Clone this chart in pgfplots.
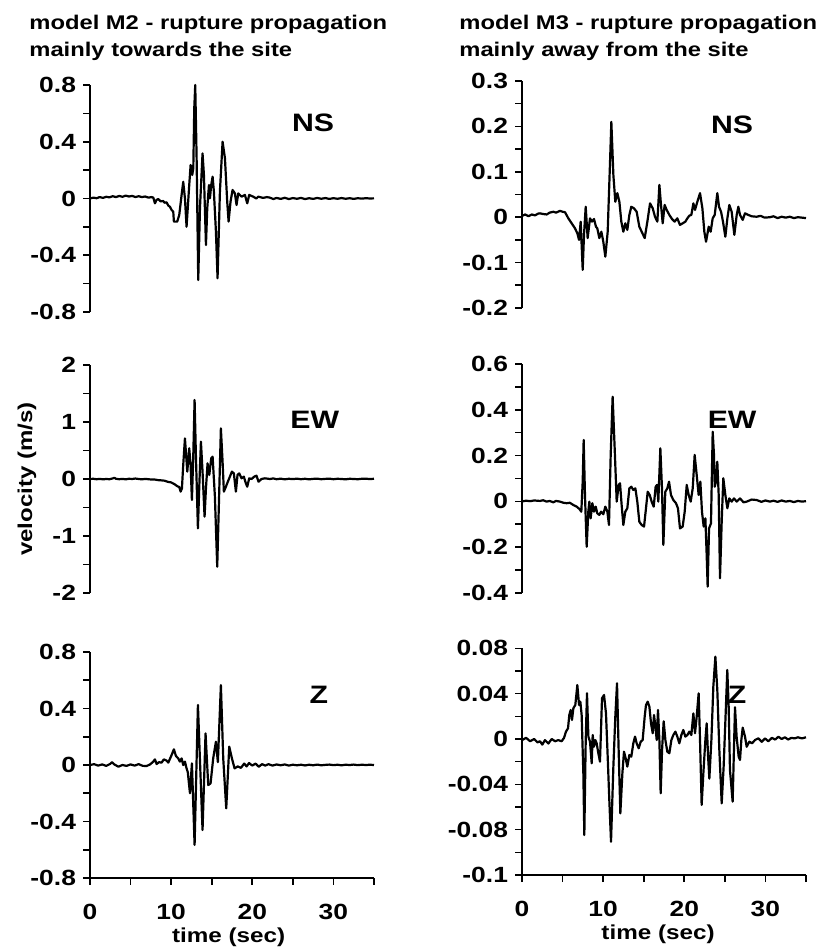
\documentclass[border=0pt]{standalone}
\usepackage{fontspec}
\setmainfont{Liberation Sans}[FakeStretch=1.2, BoldFeatures={FakeStretch=1.2}]
\usepackage{pgfplots}
\pgfplotsset{compat=1.18}

\pgfplotsset{
  panel/.style={
    scale only axis, width=142pt, xmin=0, xmax=35,
    axis y line*=left, axis line style={-, line width=0.8pt},
    tick align=outside, major tick length=3.5pt,
    every tick/.style={black, line width=0.8pt},
    yticklabel style={font=\bfseries\fontsize{11}{12}\selectfont},
    xticklabel style={font=\bfseries\fontsize{11}{12}\selectfont, yshift=-6pt},
    clip=false,
  },
  toppanel/.style={axis x line=none, xtick=\empty},
  botpanel/.style={axis x line*=bottom, xtick={0,5,...,35}, xticklabels={0,,10,,20,,30,},
    xlabel={time (sec)},
    xlabel style={font=\bfseries\fontsize{10.1}{12}\selectfont, inner sep=0pt, anchor=north,
      at={(axis description cs:#1,0)}, yshift=-24.5pt}},
  trace/.style={black, line width=1.1pt, line join=round, no marks},
}
\tikzset{
  lbl/.style={font=\bfseries\fontsize{12.6}{14}\selectfont},
  ttl/.style={anchor=base west, inner sep=0pt, font=\bfseries\fontsize{9.9}{12}\selectfont},
}

\begin{document}
\begin{tikzpicture}
\useasboundingbox (0,0) rectangle (411pt,473.5pt);

\node[ttl] at (14.5pt,458.8pt) {model M2 - rupture propagation};
\node[ttl] at (14.5pt,445.2pt) {mainly towards the site};
\node[ttl] at (229.5pt,458.8pt) {model M3 - rupture propagation};
\node[ttl] at (229.5pt,445.2pt) {mainly away from the site};

% ---- M2, NS
\begin{axis}[panel, toppanel, at={(45pt,317.5pt)}, anchor=south west, height=113.5pt,
  ymin=-0.8, ymax=0.8,
  ytick={-0.8,-0.6,-0.4,-0.2,0,0.2,0.4,0.6,0.8}, yticklabels={-0.8,,-0.4,,0,,0.4,,0.8}]
\addplot[trace] coordinates {
(0,0.000) (0.4,0.006) (0.8,0.002) (1.2,0.010) (1.6,0.004) (2.0,0.012) (2.4,0.008) (2.8,0.016)
(3.2,0.010) (3.6,0.018) (4.0,0.012) (4.4,0.020) (4.8,0.014) (5.2,0.018) (5.6,0.010) (6.0,0.016)
(6.4,0.010) (6.8,0.014) (7.2,0.006) (7.6,0.010) (7.8,0.006) (8.0,-0.034) (8.2,-0.010) (8.41,-0.004)
(8.7,-0.020) (9.03,-0.018) (9.2,-0.030) (9.44,-0.027) (9.65,-0.050) (9.85,-0.058) (10.06,-0.081)
(10.26,-0.093) (10.34,-0.163) (10.75,-0.163) (11.0,-0.116) (11.29,0.025) (11.49,0.118) (11.70,0.001)
(11.90,-0.199) (12.23,0.095) (12.40,0.236) (12.60,0.166) (12.73,0.212) (12.85,0.636) (12.97,0.800)
(13.14,0.284) (13.34,-0.574) (13.55,-0.069) (13.87,0.318) (14.04,0.166) (14.29,-0.328) (14.45,-0.069)
(14.66,0.095) (14.78,0.001) (14.94,0.095) (15.11,0.154) (15.27,0.048) (15.52,-0.234) (15.72,-0.562)
(16.01,0.048) (16.34,0.400) (16.63,0.284) (16.91,-0.022) (17.08,-0.163) (17.32,-0.022) (17.57,0.060)
(17.86,0.036) (18.06,-0.046) (18.27,0.036) (18.68,0.013) (19.09,0.025) (19.38,-0.034) (19.62,0.025)
(20.11,0.013) (20.5,0.000) (20.73,0.013) (21.34,0.004) (21.8,0.010) (22.17,0.006) (22.6,-0.004)
(23.0,0.004) (23.5,-0.003) (24.0,0.005) (24.5,-0.004) (25.0,0.003) (25.5,-0.002) (26.0,0.004)
(26.5,-0.004) (27.0,0.002) (27.5,-0.003) (28.0,0.004) (28.5,-0.002) (29.0,0.003) (29.5,-0.003)
(30.0,0.002) (30.5,-0.002) (31.0,0.003) (31.5,-0.002) (32.0,0.002) (32.5,-0.003) (33.0,0.002)
(33.5,-0.001) (34.0,0.002) (34.5,0.000) (35.0,0.001)};
\node[lbl] at (axis cs:27.5,0.536) {NS};
\end{axis}

% ---- M2, EW
\begin{axis}[panel, toppanel, at={(45pt,177pt)}, anchor=south west, height=114pt,
  ymin=-2, ymax=2,
  ytick={-2,-1.5,-1,-0.5,0,0.5,1,1.5,2}, yticklabels={-2,,-1,,0,,1,,2},
  ylabel={velocity (m/s)},
  ylabel style={font=\bfseries\fontsize{10}{12}\selectfont, at={(axis description cs:-0.222,0.5)}, anchor=center}]
\addplot[trace] coordinates {
(0,0.000) (0.4,0.004) (0.8,-0.004) (1.2,0.002) (1.6,-0.006) (2.0,0.000) (2.4,-0.004) (2.8,0.010)
(3.0,0.020) (3.2,0.004) (3.6,-0.004) (4.0,0.002) (4.4,-0.006) (4.8,0.004) (5.2,0.000) (5.6,0.008)
(6.0,0.000) (6.4,-0.006) (6.8,0.002) (7.2,-0.004) (7.6,-0.010) (8.0,-0.010) (8.4,-0.020) (8.8,-0.024)
(9.2,-0.030) (9.6,-0.050) (10.0,-0.060) (10.4,-0.090) (10.8,-0.130) (11.0,-0.140) (11.17,-0.222)
(11.33,-0.164) (11.49,0.246) (11.70,0.713) (11.99,0.129) (12.23,0.538) (12.40,0.246) (12.56,-0.368)
(12.73,0.421) (12.89,1.386) (13.05,0.421) (13.30,-0.866) (13.46,-0.164) (13.67,0.655) (13.87,0.129)
(14.12,-0.661) (14.29,-0.164) (14.49,0.275) (14.70,0.070) (14.94,0.363) (15.11,0.392) (15.39,-0.300)
(15.68,-1.538) (15.93,-0.200) (16.13,0.889) (16.34,0.300) (16.50,-0.222) (16.75,-0.135) (16.99,-0.047)
(17.24,0.041) (17.49,0.129) (17.73,0.099) (17.98,-0.222) (18.18,0.070) (18.39,0.099) (18.68,0.012)
(18.96,0.041) (19.21,-0.076) (19.38,-0.135) (19.62,0.012) (19.91,0.000) (20.24,0.041) (20.52,0.058)
(20.77,-0.047) (21.14,0.000) (21.55,0.012) (22.17,0.000) (22.6,0.010) (23.0,-0.004) (23.5,0.006)
(24.0,-0.006) (24.5,0.004) (25.0,-0.002) (25.5,0.006) (26.0,-0.004) (26.5,0.004) (27.0,-0.006)
(27.5,0.002) (28.0,0.006) (28.5,-0.004) (29.0,0.002) (29.5,0.006) (30.0,-0.004) (30.5,0.004)
(31.0,0.000) (31.5,-0.006) (32.0,0.004) (32.5,0.000) (33.0,-0.004) (33.5,0.004) (34.0,0.006)
(34.5,-0.002) (35.0,0.004)};
\node[lbl] at (axis cs:27.7,1.03) {EW};
\end{axis}

% ---- M2, Z
\begin{axis}[panel, botpanel=0.488, at={(45pt,34.5pt)}, anchor=south west, height=113pt,
  ymin=-0.8, ymax=0.8,
  ytick={-0.8,-0.6,-0.4,-0.2,0,0.2,0.4,0.6,0.8}, yticklabels={-0.8,,-0.4,,0,,0.4,,0.8}]
\addplot[trace] coordinates {
(0,0.000) (0.5,0.006) (1.0,-0.004) (1.5,0.004) (2.0,-0.006) (2.5,0.008) (2.7,0.020) (3.0,0.004)
(3.5,-0.012) (4.0,0.000) (4.5,-0.006) (5.0,0.004) (5.5,-0.004) (6.0,0.006) (6.5,-0.006) (6.98,-0.007)
(7.4,0.004) (7.8,0.024) (8.0,0.040) (8.21,0.007) (8.5,0.020) (8.83,0.017) (9.1,0.040) (9.44,0.031)
(9.65,0.017) (10.06,0.071) (10.34,0.111) (10.59,0.064) (10.88,0.047) (11.08,0.024) (11.29,0.047)
(11.49,0.000) (11.70,0.024) (11.90,-0.024) (12.05,-0.050) (12.32,-0.200) (12.56,0.012) (12.89,-0.566)
(13.30,0.425) (13.87,-0.460) (14.24,0.224) (14.57,-0.142) (14.86,-0.130) (15.19,0.050) (15.52,0.165)
(15.76,0.020) (16.13,0.566) (16.42,0.047) (16.79,-0.307) (17.16,0.130) (17.49,0.047) (17.82,-0.024)
(18.2,-0.010) (18.6,-0.020) (19.0,0.010) (19.3,-0.010) (19.6,0.014) (20.0,-0.004) (20.4,0.010)
(20.8,-0.012) (21.2,0.006) (21.6,-0.004) (22.0,0.006) (22.5,-0.004) (23.0,0.004) (23.5,-0.002)
(24.0,0.004) (24.5,-0.004) (25.0,0.002) (25.5,-0.002) (26.0,0.002) (26.5,-0.003) (27.0,0.002)
(27.5,-0.002) (28.0,0.003) (28.5,-0.002) (29.0,0.001) (29.5,0.003) (30.0,-0.001) (30.5,0.002)
(31.0,-0.002) (31.5,0.002) (32.0,0.000) (32.5,0.003) (33.0,-0.001) (33.5,0.002) (34.0,0.000)
(34.5,0.002) (35.0,0.000)};
\node[lbl] at (axis cs:28.2,0.50) {Z};
\end{axis}

% ---- M3, NS
\begin{axis}[panel, toppanel, at={(261pt,319.5pt)}, anchor=south west, height=113.5pt,
  ymin=-0.2, ymax=0.3,
  ytick={-0.2,-0.15,-0.1,-0.05,0,0.05,0.1,0.15,0.2,0.25,0.3},
  yticklabels={-0.2,,-0.1,,0,,0.1,,0.2,,0.3}]
\addplot[trace] coordinates {
(0,0.003) (0.4,0.006) (0.8,0.002) (1.2,0.006) (1.6,0.004) (2.0,0.008) (2.22,0.0085) (2.6,0.007)
(3.04,0.006) (3.4,0.010) (3.86,0.012) (4.2,0.010) (4.68,0.014) (5.0,0.012) (5.30,0.011) (5.71,-0.0025)
(6.12,-0.0135) (6.53,-0.0245) (6.82,-0.0355) (7.03,-0.050) (7.23,-0.010) (7.48,-0.116) (7.64,-0.039)
(7.85,0.023) (8.09,-0.046) (8.38,-0.0025) (8.63,-0.0098) (8.87,-0.004) (9.12,-0.021) (9.28,-0.0245)
(9.53,-0.046) (9.78,-0.032) (10.02,-0.054) (10.27,-0.087) (10.56,-0.032) (10.85,0.122) (11.01,0.210)
(11.26,0.093) (11.50,0.034) (11.75,0.053) (12.00,0.034) (12.24,-0.0098) (12.49,-0.032) (12.73,-0.0135)
(12.98,-0.028) (13.23,0.005) (13.47,0.023) (13.80,0.0195) (14.13,0.012) (14.46,-0.021) (14.75,-0.032)
(15.12,-0.046) (15.45,-0.0098) (15.78,0.0305) (16.11,0.0195) (16.39,0.001) (16.68,-0.0098) (16.93,0.071)
(17.13,0.027) (17.34,-0.0135) (17.58,0.027) (17.83,0.016) (18.16,0.005) (18.49,-0.004) (18.81,-0.0098)
(19.14,-0.0025) (19.47,-0.017) (19.80,-0.0135) (20.13,-0.0098) (20.38,-0.0025) (20.62,0.0034)
(20.87,0.005) (21.12,0.0305) (21.32,0.016) (21.61,0.034) (21.94,0.053) (22.23,0.0195) (22.47,-0.032)
(22.68,-0.054) (23.01,-0.021) (23.25,-0.032) (23.50,-0.0025) (23.75,0.005) (24.07,0.053) (24.28,0.023)
(24.53,0.012) (24.77,-0.0098) (25.06,-0.043) (25.31,-0.0025) (25.55,0.027) (25.84,0.012) (26.17,-0.039)
(26.46,0.005) (26.66,0.023) (26.87,0.005) (27.20,-0.006) (27.48,0.0085) (27.89,0.005) (28.3,0.002)
(28.92,0.001) (29.4,0.003) (29.9,-0.001) (30.56,0.000) (31.0,0.002) (31.5,-0.002) (32.0,0.001)
(32.5,-0.001) (33.0,0.001) (33.5,-0.002) (34.0,0.000) (34.5,-0.001) (35.0,-0.002)};
\node[lbl] at (axis cs:25.9,0.203) {NS};
\end{axis}

% ---- M3, EW
\begin{axis}[panel, toppanel, at={(261pt,177pt)}, anchor=south west, height=114.5pt,
  ymin=-0.4, ymax=0.6,
  ytick={-0.4,-0.3,-0.2,-0.1,0,0.1,0.2,0.3,0.4,0.5,0.6},
  yticklabels={-0.4,,-0.2,,0,,0.2,,0.4,,0.6}]
\addplot[trace] coordinates {
(0,0.000) (0.5,0.003) (1.0,0.001) (1.5,0.004) (2.22,0.002) (2.6,0.005) (3.04,-0.001) (3.4,0.002)
(3.86,-0.004) (4.2,0.002) (4.68,-0.001) (5.1,-0.006) (5.50,-0.008) (5.9,-0.006) (6.33,-0.016)
(6.74,-0.023) (7.07,-0.033) (7.31,-0.045) (7.48,0.086) (7.60,0.268) (7.76,0.028) (7.97,-0.198)
(8.17,-0.045) (8.30,-0.001) (8.46,-0.074) (8.67,-0.008) (8.87,-0.045) (9.08,-0.023) (9.28,-0.052)
(9.53,-0.059) (9.74,-0.045) (10.02,-0.056) (10.27,-0.023) (10.52,-0.045) (10.72,-0.103) (10.93,0.203)
(11.17,0.457) (11.42,0.232) (11.67,-0.001) (11.91,0.072) (12.08,0.079) (12.28,-0.016) (12.49,-0.103)
(12.73,-0.045) (12.98,-0.030) (13.23,0.057) (13.47,0.064) (13.72,0.050) (13.97,0.057) (14.21,-0.001)
(14.46,-0.089) (14.75,-0.103) (15.04,-0.110) (15.28,-0.030) (15.49,0.042) (15.74,0.028) (15.98,-0.001)
(16.23,-0.023) (16.47,0.064) (16.64,0.072) (16.80,-0.001) (17.05,0.232) (17.25,0.057) (17.42,-0.190)
(17.66,0.042) (17.91,0.057) (18.12,0.086) (18.36,0.028) (18.65,0.006) (18.98,-0.008) (19.22,-0.030)
(19.47,-0.118) (19.80,-0.110) (20.05,-0.045) (20.30,0.072) (20.54,0.028) (20.79,-0.001) (21.04,0.057)
(21.28,0.203) (21.53,0.115) (21.77,0.028) (21.98,0.086) (22.18,-0.045) (22.39,-0.110) (22.60,-0.074)
(22.76,-0.234) (22.88,-0.372) (23.05,-0.118) (23.29,-0.096) (23.50,0.304) (23.66,0.203) (23.75,0.064)
(23.91,0.086) (24.07,0.173) (24.24,0.028) (24.40,-0.336) (24.61,-0.089) (24.81,0.101) (25.06,0.028)
(25.31,-0.030) (25.55,0.013) (25.84,-0.001) (26.13,0.013) (26.46,-0.001) (26.87,0.013) (27.3,-0.004)
(27.69,-0.001) (28.3,0.008) (28.92,0.006) (29.5,-0.002) (30.0,0.004) (30.56,-0.001) (31.0,0.003)
(31.5,-0.002) (32.0,0.004) (32.5,-0.001) (33.0,0.002) (33.5,-0.003) (34.0,0.002) (34.5,-0.001)
(35.0,0.001)};
\node[lbl] at (axis cs:25.9,0.357) {EW};
\end{axis}

% ---- M3, Z
\begin{axis}[panel, botpanel=0.479, at={(261pt,36pt)}, anchor=south west, height=113.35pt,
  ymin=-0.12, ymax=0.08,
  ytick={-0.12,-0.1,-0.08,-0.06,-0.04,-0.02,0,0.02,0.04,0.06,0.08},
  yticklabels={-0.1,,-0.08,,-0.04,,0,,0.04,,0.08}]
\addplot[trace] coordinates {
(0,-0.001) (0.5,0.001) (1.0,-0.002) (1.5,0.000) (1.9,-0.003) (2.22,-0.002) (2.5,-0.005) (2.83,-0.001)
(3.25,-0.004) (3.66,0.000) (4.07,-0.002) (4.48,-0.001) (4.89,-0.002) (5.18,0.001) (5.42,0.0065)
(5.67,0.0094) (5.83,0.0212) (6.00,0.0256) (6.16,0.0168) (6.33,0.0271) (6.57,0.030) (6.82,0.0476)
(7.03,0.030) (7.19,0.0329) (7.35,0.0212) (7.56,-0.0303) (7.68,-0.0847) (7.85,-0.002) (8.01,0.0403)
(8.18,0.0021) (8.38,-0.0024) (8.59,-0.0215) (8.71,0.0035) (8.87,-0.0068) (9.04,-0.001) (9.20,-0.0038)
(9.41,-0.0126) (9.61,-0.0200) (9.86,0.0359) (10.11,0.0388) (10.35,0.0226) (10.56,-0.0156) (10.76,-0.0538)
(10.97,-0.0906) (11.26,-0.0244) (11.50,0.0197) (11.71,0.0491) (11.91,-0.0097) (12.12,-0.0656)
(12.37,-0.0303) (12.57,-0.0112) (12.78,-0.0171) (12.98,-0.0244) (13.23,-0.0141) (13.47,-0.0156)
(13.72,-0.0038) (13.93,0.0021) (14.13,-0.0038) (14.38,-0.0082) (14.63,-0.0024) (14.87,-0.0009)
(15.12,0.0197) (15.28,0.030) (15.49,0.0329) (15.70,0.0285) (15.90,0.0138) (16.11,0.0050) (16.27,0.0212)
(16.44,0.0109) (16.60,-0.0009) (16.76,0.0256) (16.93,-0.0009) (17.09,-0.0479) (17.26,-0.0097)
(17.46,0.0156) (17.67,-0.0009) (17.91,-0.0112) (18.16,-0.0126) (18.41,-0.0009) (18.65,0.0035)
(18.90,0.0065) (19.14,0.0021) (19.39,-0.0038) (19.64,0.0035) (19.88,0.0079) (20.13,0.0021)
(20.38,0.0035) (20.62,0.0065) (20.87,0.0035) (21.12,0.0226) (21.32,0.0050) (21.53,0.0197)
(21.77,0.0403) (21.94,-0.0009) (22.14,-0.0582) (22.35,-0.0303) (22.60,-0.0009) (22.76,0.0138)
(22.93,-0.0150) (23.09,-0.0350) (23.34,-0.0009) (23.58,0.0462) (23.83,0.0726) (24.07,0.0432)
(24.32,-0.0097) (24.61,-0.0568) (24.85,-0.0244) (25.10,0.0226) (25.30,0.0609) (25.47,0.0285)
(25.63,-0.0274) (25.96,-0.0553) (26.10,-0.0150) (26.25,0.0280) (26.45,0.0020) (26.70,-0.0156)
(26.87,-0.0185) (27.03,-0.0009) (27.20,0.0100) (27.48,0.0021) (27.69,-0.0068) (28.02,-0.0024)
(28.35,-0.0038) (28.72,-0.0009) (29.13,0.0006) (29.54,-0.0025) (29.95,0.0005) (30.36,-0.0020)
(30.8,0.0010) (31.2,-0.0005) (31.6,0.0020) (32.0,0.0000) (32.4,0.0015) (32.8,-0.0005) (33.2,0.0010)
(33.6,0.0005) (34.0,0.0015) (34.5,0.0005) (35.0,0.0015)};
\node[lbl] at (axis cs:26.5,0.039) {Z};
\end{axis}
\end{tikzpicture}
\end{document}
